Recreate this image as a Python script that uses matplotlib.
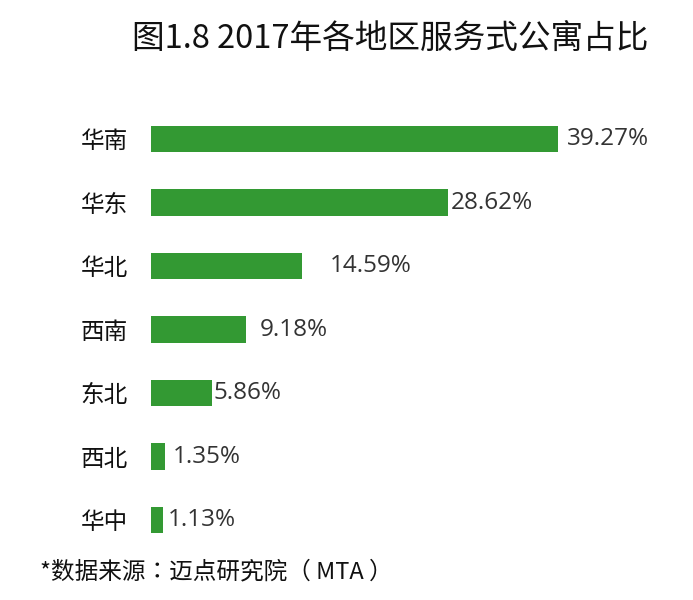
import matplotlib
matplotlib.use("Agg")
import matplotlib.pyplot as plt

plt.rcParams["font.family"] = ["Noto Sans CJK SC", "DejaVu Sans"]

# ── DATA ──────────────────────────────────────────────────────
regions = ["华南", "华东", "华北", "西南", "东北", "西北", "华中"]
shares = [39.27, 28.62, 14.59, 9.18, 5.86, 1.35, 1.13]
share_labels = ["39.27%", "28.62%", "14.59%", "9.18%", "5.86%", "1.35%", "1.13%"]

title = "图1.8 2017年各地区服务式公寓占比"
source = "*数据来源：迈点研究院（ MTA ）"

bar_color = "#339933"
# gap between bar end and its label, in pixels (as in the original)
label_gap_px = [9, 3, 28, 14, 2, 8, 5]

# ── CHART ─────────────────────────────────────────────────────
fig = plt.figure(figsize=(6.93, 6.00), dpi=100)
ax = fig.add_axes([151 / 693, 0.0804, 518 / 693, 0.82125 - 0.0804])

ypos = list(range(len(regions)))
ax.barh(ypos, shares, height=0.41, color=bar_color)
ax.set_xlim(0, 50)
ax.set_ylim(len(regions) - 0.5, -0.5)

for y, v, lab, gap in zip(ypos, shares, share_labels, label_gap_px):
    ax.annotate(lab, xy=(v, y), xytext=(gap * 72 / 100, 0), textcoords="offset points",
                ha="left", va="center", fontsize=17.5, color="#333333",
                family=["Open Sans", "DejaVu Sans"])

ax.set_yticks(ypos)
ax.set_yticklabels(regions, fontsize=17, color="#111111")
ax.tick_params(axis="y", length=0, pad=16.5)
ax.set_xticks([])
for s in ax.spines.values():
    s.set_visible(False)

fig.text(390 / 693, 1 - 40 / 600, title, ha="center", va="center", fontsize=23.5, color="#111111")
fig.text(40 / 693, 1 - 572 / 600, source, ha="left", va="center", fontsize=17,
         color="#111111", family=["Noto Sans CJK TC", "DejaVu Sans"])

fig.savefig("out.png", dpi=100)
